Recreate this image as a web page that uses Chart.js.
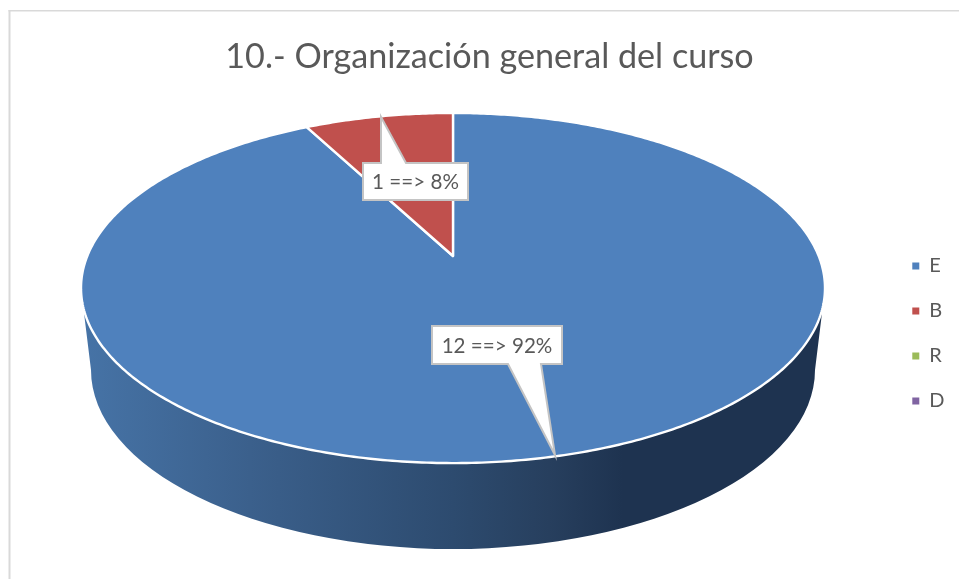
<!DOCTYPE html>
<html lang="es">
<head>
<meta charset="utf-8">
<title>10.- Organización general del curso</title>
<script src="https://cdn.jsdelivr.net/npm/chart.js@4"></script>
<style>
  html, body { margin: 0; padding: 0; background: #fff; overflow: hidden; }
  #wrap { position: absolute; left: 0; top: 0; width: 959px; height: 579px; }
</style>
</head>
<body>
<div id="wrap"><canvas id="myChart" width="959" height="579"></canvas></div>
<script>
const tituloGrafica = '10.- Organización general del curso';
const categorias = ['E', 'B', 'R', 'D'];
const valores = [12, 1, 0, 0];
const colores = ['#4f81bd', '#c0504d', '#9bbb59', '#8064a2'];

// Perspectiva de la cara superior del pastel (círculo -> pantalla)
const CX = 453, CY = 256, PERSP = -0.183, ESC_X = 365.7, ESC_Y = 169.2;

function proyectar(a) {
    const w = 1 + PERSP * Math.sin(a);
    return { x: CX + ESC_X * Math.cos(a) / w, y: CY + ESC_Y * Math.sin(a) / w };
}

function dibujarLateral(ctx) {
    const grad = ctx.createLinearGradient(84, 0, 822, 0);
    grad.addColorStop(0, '#4673a6');
    grad.addColorStop(0.225, '#3b608c');
    grad.addColorStop(0.5, '#2d4b6f');
    grad.addColorStop(0.63, '#273f5e');
    grad.addColorStop(0.73, '#1e3350');
    grad.addColorStop(1, '#1e3350');
    ctx.beginPath();
    ctx.moveTo(822, 313);
    ctx.lineTo(815, 370);
    ctx.ellipse(453, 370, 362, 179, 0, 0, Math.PI);
    ctx.lineTo(84, 313);
    ctx.closePath();
    ctx.fillStyle = grad;
    ctx.fill();
}

function dibujarRebanada(ctx, arc, color) {
    const pasos = Math.max(2, Math.ceil((arc.endAngle - arc.startAngle) * 90));
    ctx.beginPath();
    ctx.moveTo(CX, CY);
    for (let i = 0; i <= pasos; i++) {
        const p = proyectar(arc.startAngle + (arc.endAngle - arc.startAngle) * i / pasos);
        ctx.lineTo(p.x, p.y);
    }
    ctx.closePath();
    ctx.fillStyle = color;
    ctx.fill();
    ctx.strokeStyle = '#ffffff';
    ctx.lineWidth = 2.4;
    ctx.lineJoin = 'round';
    ctx.stroke();
}

function dibujarGlobo(ctx, texto, caja, punta, baseIzq, baseDer) {
    ctx.beginPath();
    ctx.moveTo(caja.x, caja.y);
    // la punta sale del lado superior o inferior segun donde este
    if (punta.y < caja.y) {
        ctx.lineTo(baseIzq, caja.y);
        ctx.lineTo(punta.x, punta.y);
        ctx.lineTo(baseDer, caja.y);
    }
    ctx.lineTo(caja.x + caja.w, caja.y);
    ctx.lineTo(caja.x + caja.w, caja.y + caja.h);
    if (punta.y > caja.y + caja.h) {
        ctx.lineTo(baseDer, caja.y + caja.h);
        ctx.lineTo(punta.x, punta.y);
        ctx.lineTo(baseIzq, caja.y + caja.h);
    }
    ctx.lineTo(caja.x, caja.y + caja.h);
    ctx.closePath();
    ctx.fillStyle = '#ffffff';
    ctx.fill();
    ctx.strokeStyle = '#c4c4c4';
    ctx.lineWidth = 2;
    ctx.lineJoin = 'miter';
    ctx.stroke();
    ctx.fillStyle = '#595959';
    ctx.font = '20.6px Lato';
    ctx.textAlign = 'center';
    ctx.textBaseline = 'middle';
    ctx.fillText(texto, caja.x + caja.w / 2, caja.y + caja.h / 2 + 1);
}

const pastel3D = {
    id: 'pastel3D',
    beforeDraw(chart) {
        // marco del area de la grafica
        const ctx = chart.ctx;
        ctx.save();
        ctx.strokeStyle = '#d9d9d9';
        ctx.lineWidth = 2;
        ctx.beginPath();
        ctx.moveTo(9.5, 579);
        ctx.lineTo(9.5, 10);
        ctx.stroke();
        ctx.lineWidth = 1.5;
        ctx.beginPath();
        ctx.moveTo(8.5, 10.75);
        ctx.lineTo(959, 10.75);
        ctx.stroke();
        ctx.restore();
    },
    afterLayout(chart) {
        // la leyenda va un poco mas abajo y a la izquierda que el default
        chart.legend.left -= 4.5;
        chart.legend.top += 44;
        chart.legend.bottom += 44;
    },
    beforeDatasetsDraw(chart) {
        const ctx = chart.ctx;
        const arcos = chart.getDatasetMeta(0).data;
        ctx.save();
        dibujarLateral(ctx);
        arcos.forEach((arc, i) => {
            if (valores[i] > 0) dibujarRebanada(ctx, arc, colores[i]);
        });
        ctx.restore();
        return false;
    },
    afterDraw(chart) {
        const ctx = chart.ctx;
        const total = valores.reduce((a, b) => a + b, 0);
        const etiqueta = i => valores[i] + ' ==> ' + Math.round(valores[i] / total * 100) + '%';
        ctx.save();
        dibujarGlobo(ctx, etiqueta(0), { x: 432, y: 326, w: 130, h: 38 }, { x: 555, y: 455 }, 508, 541);
        dibujarGlobo(ctx, etiqueta(1), { x: 363, y: 163, w: 105, h: 37 }, { x: 381, y: 117 }, 381, 406);
        ctx.restore();
    }
};

new Chart(document.getElementById('myChart'), {
    type: 'pie',
    data: {
        labels: categorias,
        datasets: [{ data: valores, backgroundColor: colores, borderWidth: 0 }]
    },
    options: {
        responsive: false,
        animation: false,
        layout: { padding: { left: 20 } },
        plugins: {
            tooltip: { enabled: false },
            title: {
                display: true,
                text: tituloGrafica,
                color: '#595959',
                font: { family: 'Lato', size: 34.15, weight: 'normal' },
                padding: { top: 36, bottom: 25 }
            },
            legend: {
                position: 'right',
                labels: {
                    color: '#595959',
                    font: { family: 'Lato', size: 20 },
                    boxWidth: 7,
                    boxHeight: 7,
                    padding: 25
                }
            }
        }
    },
    plugins: [pastel3D]
});
</script>
</body>
</html>
